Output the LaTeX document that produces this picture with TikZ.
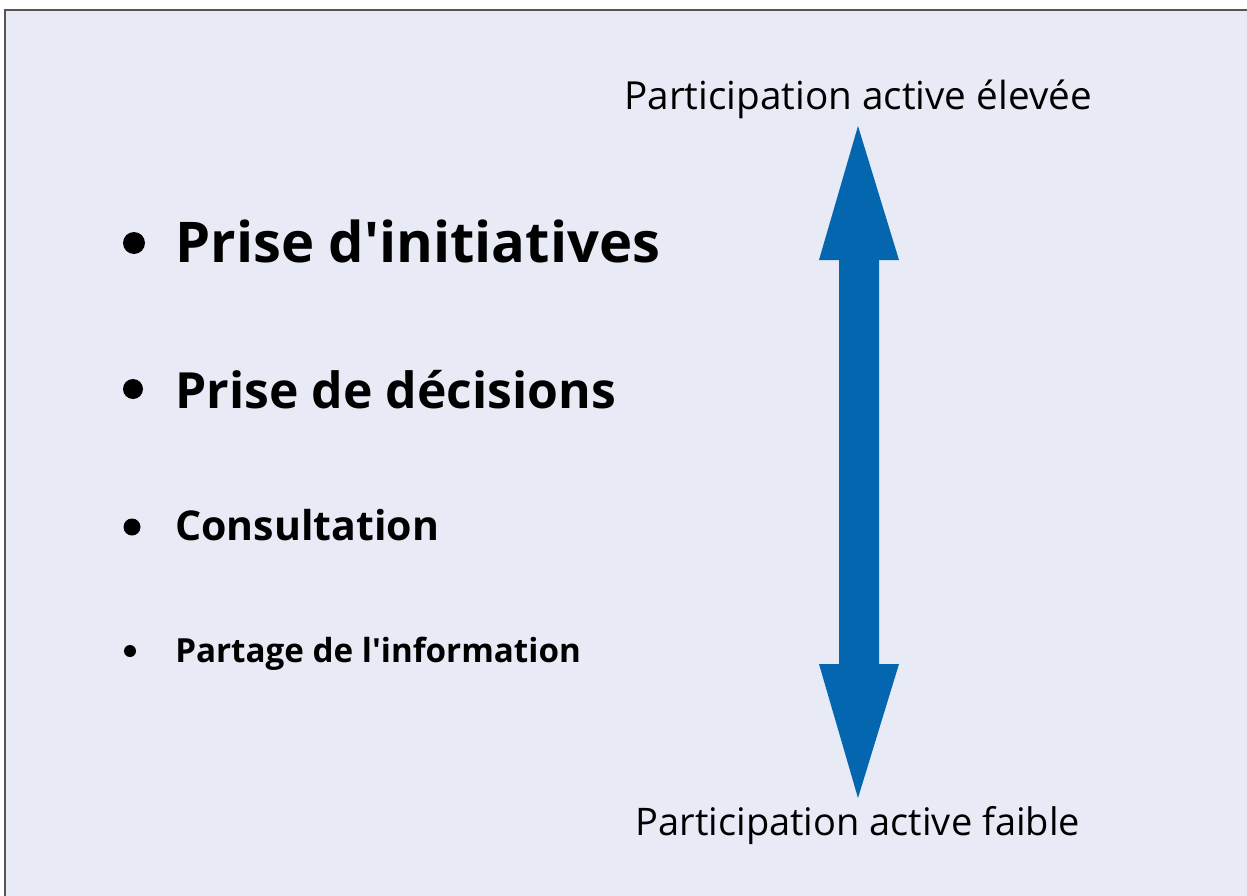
\documentclass[tikz,border=0pt]{standalone}
\usepackage{fontspec}
\setmainfont{Open Sans}
\definecolor{bgc}{HTML}{E8EAF5}
\definecolor{arrowc}{HTML}{0566B0}
\definecolor{framec}{HTML}{555555}
\begin{document}
\begin{tikzpicture}[x=0.75pt,y=-0.75pt,
  item/.style={anchor=base west,inner sep=0pt,font=\bfseries},
  axislabel/.style={anchor=base,inner sep=0pt},
  dot/.style={fill=black,draw=none}]
\useasboundingbox (0,0) rectangle (1247,896);
\fill[white] (0,0) rectangle (1247,896);
\fill[bgc] (5,10) rectangle (1247,896);
\draw[framec,line width=1.2pt] (5,896) -- (5,10) -- (1247,10);
% double arrow
\fill[arrowc] (858,126) -- (899,260) -- (879,260) -- (879,664) -- (899,664)
  -- (858,798) -- (819,664) -- (839,664) -- (839,260) -- (819,260) -- cycle;
\node[axislabel,font=\fontsize{29}{32}\selectfont] (high) at (858,109) {Participation active élevée};
\node[axislabel,font=\fontsize{28.5}{32}\selectfont] (low) at (858,835) {Participation active faible};
% items
\fill[dot] (134,243) circle (11);
\node[item,font=\bfseries\fontsize{42.1}{46}\selectfont] (i1) at (175,262) {Prise d\textquotesingle initiatives};
\fill[dot] (133,389) circle (10);
\node[item,font=\bfseries\fontsize{37.4}{42}\selectfont] (i2) at (175,408) {Prise de décisions};
\fill[dot] (132,527) circle (8.5);
\node[item,font=\bfseries\fontsize{30.8}{34}\selectfont] (i3) at (175,540) {Consultation};
\fill[dot] (130,651) circle (6);
\node[item,font=\bfseries\fontsize{24.9}{28}\selectfont] (i4) at (175,662) {Partage de l\textquotesingle information};
\end{tikzpicture}
\end{document}
